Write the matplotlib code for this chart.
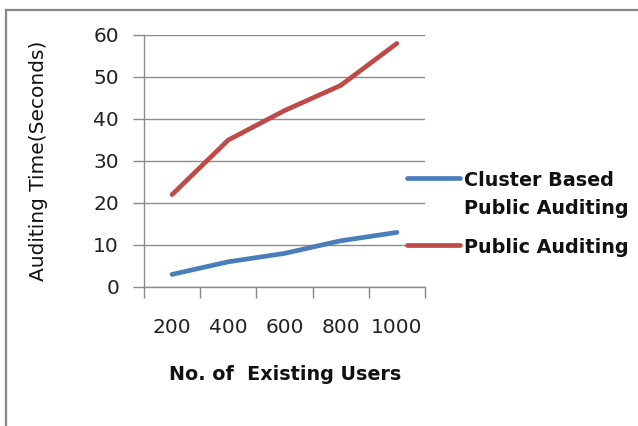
import matplotlib
matplotlib.use("Agg")
import matplotlib.pyplot as plt
from matplotlib.lines import Line2D

users = ["200", "400", "600", "800", "1000"]
cluster_based = [3, 6, 8, 11, 13]
public_auditing = [22, 35, 42, 48, 58]
series_labels = ["Cluster Based\nPublic Auditing", "Public Auditing"]
series_colors = ["#4a7ebb", "#be4b48"]
y_ticks = [0, 10, 20, 30, 40, 50, 60]

plt.rcParams["font.family"] = ["DejaVu Sans"]

fig = plt.figure(figsize=(6.38, 4.26), dpi=100)
ax = fig.add_axes([144 / 638, 1 - 287 / 426, (425 - 144) / 638, (287 - 35) / 426])

xs = [i + 0.5 for i in range(len(users))]
for vals, col in zip([cluster_based, public_auditing], series_colors):
    ax.plot(xs, vals, color=col, lw=3.4, solid_capstyle="round", solid_joinstyle="round")

ax.set_xlim(0, len(users))
ax.set_ylim(0, 60)
ax.set_yticks(y_ticks)
ax.set_xticks(range(len(users) + 1))
ax.set_xticklabels([])
ax.set_xticks(xs, minor=True)
ax.set_xticklabels(users, minor=True, fontsize=14.5, color="#222222")
ax.tick_params(axis="x", which="major", length=8, width=1, color="#888888", direction="out")
ax.tick_params(axis="x", which="minor", length=0, pad=22)
ax.tick_params(axis="y", length=8, width=1, color="#888888", labelsize=14.5,
               labelcolor="#222222", pad=10)
ax.grid(axis="y", color="#8c8c8c", lw=1)
ax.set_axisbelow(True)
for s in ["top", "right"]:
    ax.spines[s].set_visible(False)
for s in ["left", "bottom"]:
    ax.spines[s].set_color("#8c8c8c")
    ax.spines[s].set_linewidth(1)

ax.set_ylabel("Auditing Time(Seconds)", fontsize=14.5, color="#111111")
ax.yaxis.set_label_coords(-0.34, 0.5)
fig.text(285 / 638, 1 - 375 / 426, "No. of  Existing Users", fontsize=13.8,
         fontweight="bold", ha="center", va="center", color="#111111")

# legend entries at the right of the plot
legend_y = [178, 245]
for lab, col, ly in zip(series_labels, series_colors, legend_y):
    fy = 1 - ly / 426
    fig.add_artist(Line2D([407 / 638, 460 / 638], [fy, fy], color=col, lw=3.4,
                          solid_capstyle="round"))
    fig.text(464 / 638, fy + 7 / 426, lab, fontsize=13.8, fontweight="bold",
             ha="left", va="top", color="#111111", linespacing=1.6)

# frame around the chart
fig.add_artist(Line2D([6 / 638, 6 / 638], [0, 1 - 10 / 426], color="#888888", lw=1.6))
fig.add_artist(Line2D([6 / 638, 1], [1 - 10 / 426, 1 - 10 / 426], color="#888888", lw=1.6))

fig.savefig("out.png", dpi=100)
